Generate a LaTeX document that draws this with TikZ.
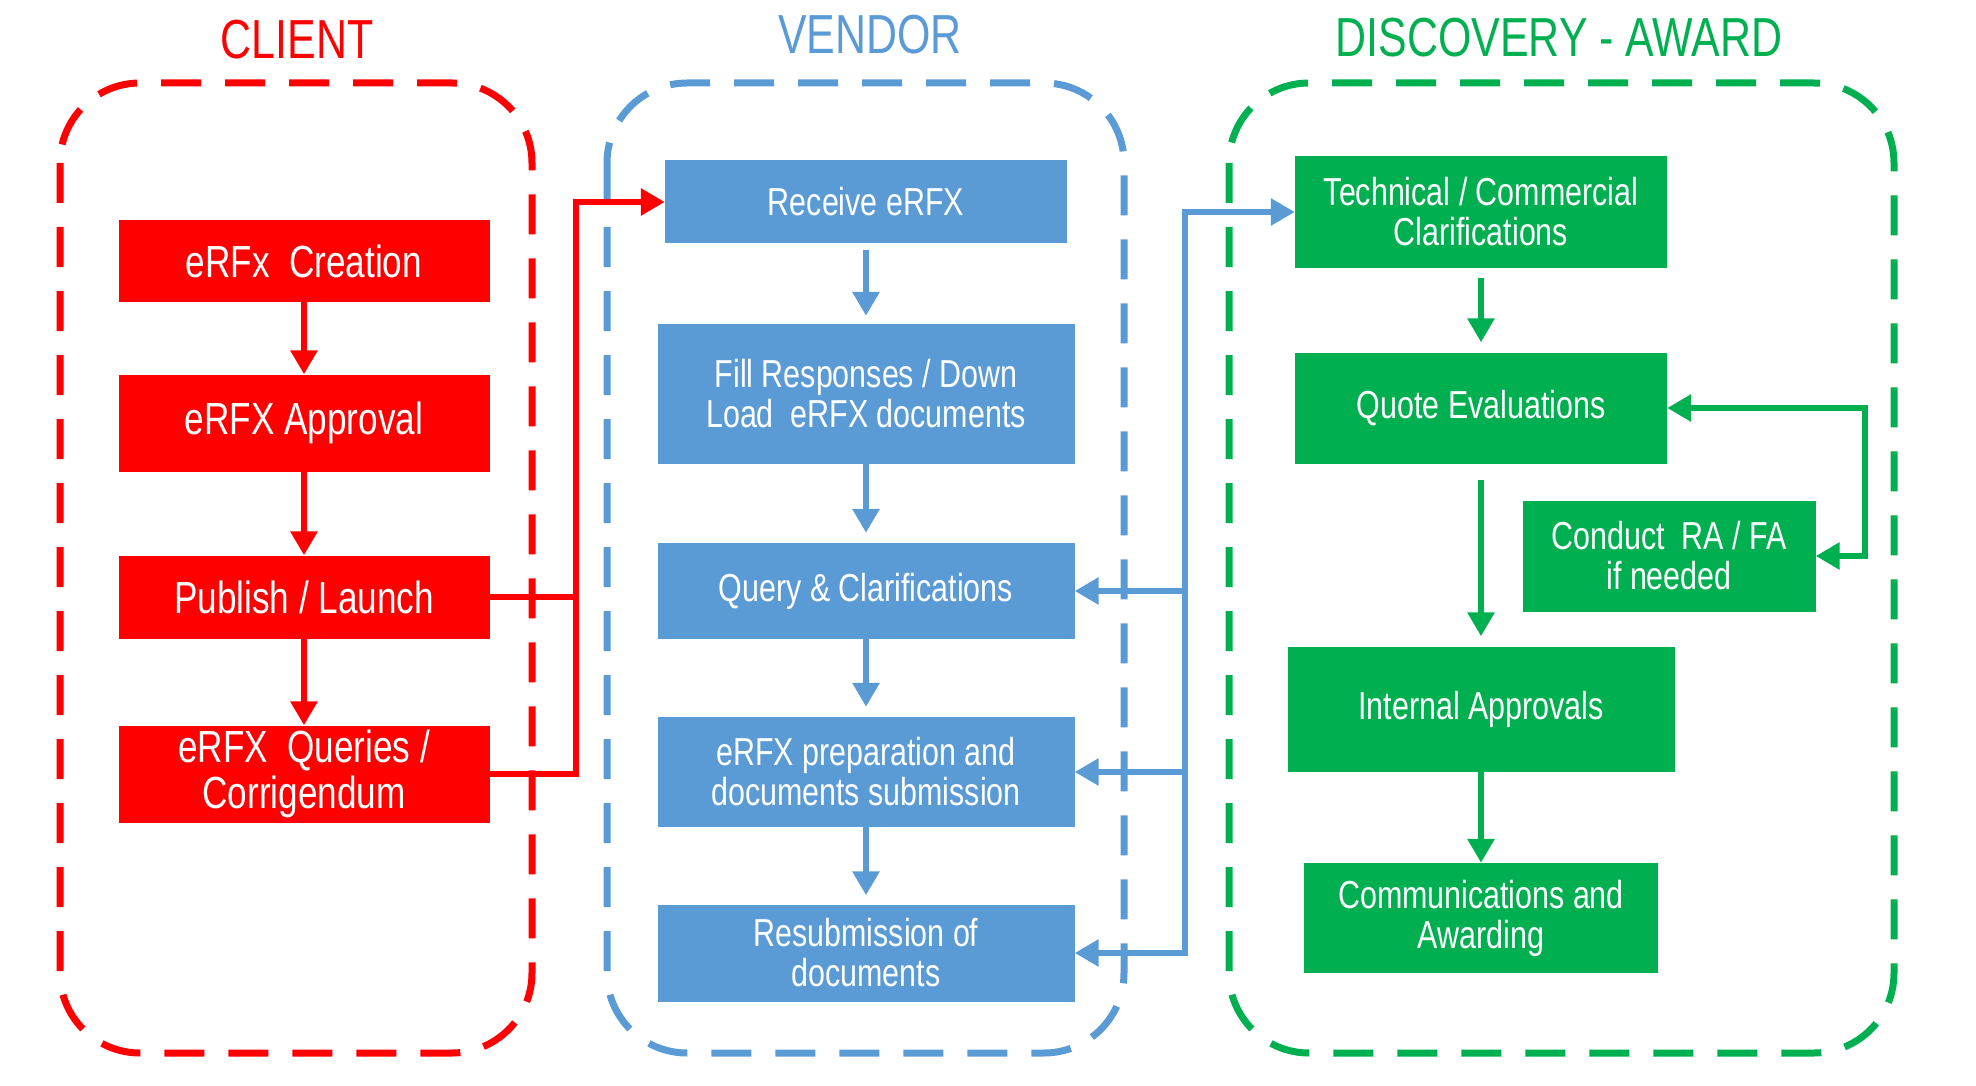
\documentclass[tikz,border=0pt]{standalone}
\usepackage{fontspec}
\setmainfont{Liberation Sans}[FakeStretch=0.78]
\usetikzlibrary{arrows.meta,positioning}
\definecolor{clientred}{HTML}{FF0000}
\definecolor{vendorblue}{HTML}{5B9BD5}
\definecolor{awardgreen}{HTML}{00B050}

\begin{document}
\begin{tikzpicture}[x=1pt,y=-1pt,>={Triangle[length=24pt,width=26pt]}]
\tikzstyle{lane}=[line width=7pt, dash pattern=on 40pt off 24pt, rounded corners=80pt]
\tikzstyle{title}=[anchor=base, font=\fontsize{55}{60}\selectfont]
\tikzstyle{client}=[rectangle, fill=clientred, text=white, inner sep=0pt, minimum width=371pt, align=center, font=\fontsize{45}{46}\selectfont]
\tikzstyle{vendor}=[rectangle, fill=vendorblue, text=white, inner sep=0pt, minimum width=417pt, align=center, font=\fontsize{39}{40}\selectfont]
\tikzstyle{award}=[rectangle, fill=awardgreen, text=white, inner sep=0pt, minimum width=372pt, align=center, font=\fontsize{39}{40}\selectfont]
\tikzstyle{connect}=[->, line width=6pt]
\tikzstyle{twoway}=[<->, line width=6pt]
\useasboundingbox (0,0) rectangle (1976,1086);
  % lanes
  \draw[lane, clientred] (60,83) rectangle (532,1053);
  \draw[lane, vendorblue] (607,83) rectangle (1124,1053);
  \draw[lane, awardgreen] (1229,83) rectangle (1894,1053);
  \node[title, text=clientred] (tclient) at (297,59) {CLIENT};
  \node[title, text=vendorblue] (tvendor) at (870,54) {VENDOR};
  \node[title, text=awardgreen] (taward) at (1559,57) {DISCOVERY - AWARD};
  % client
  \node[client, minimum height=82pt] (create) at (304,261) {eRFx\ \ Creation};
  \node[client, minimum height=97pt] (approve) at (304,423) {eRFX Approval};
  \node[client, minimum height=83pt] (publish) at (304,597) {Publish / Launch};
  \node[client, minimum height=97pt] (queries) at (304,774) {eRFX\ \ Queries /\\Corrigendum};
  % vendor
  \node[vendor, minimum width=402pt, minimum height=83pt] (receive) at (866,202) {Receive eRFX};
  \node[vendor, minimum height=140pt] (fill) at (866,394) {Fill Responses / Down\\Load\ \ eRFX documents};
  \node[vendor, minimum height=96pt] (query) at (866,591) {Query \& Clarifications};
  \node[vendor, minimum height=110pt] (prep) at (866,772) {eRFX preparation and\\documents submission};
  \node[vendor, minimum height=97pt] (resub) at (866,953) {Resubmission of\\documents};
  % discovery - award
  \node[award, minimum height=111pt] (tech) at (1481,212) {Technical / Commercial\\Clarifications};
  \node[award, minimum height=111pt] (quote) at (1481,408) {Quote Evaluations};
  \node[award, minimum width=293pt, minimum height=111pt] (conduct) at (1669,556) {Conduct\ \ RA / FA\\if needed};
  \node[award, minimum width=387pt, minimum height=125pt] (internal) at (1481,709) {Internal Approvals};
  \node[award, minimum width=354pt, minimum height=110pt] (comm) at (1481,918) {Communications and\\Awarding};
  \coordinate (rjoin) at (576,202);
  \coordinate (bjoin) at (1185,212);
  \coordinate (gloop) at (1865,408);
  \path[clientred] (create) edge [connect] (approve)
           (approve) edge [connect] (publish)
           (publish) edge [connect] (queries);
  \draw[connect, clientred] (queries.east) -| (rjoin) -- (receive.west);
  \draw[line width=6pt, clientred] (publish.east) -- (publish.east -| rjoin);
  \path[vendorblue] (receive) edge [connect, shorten <=6pt, shorten >=8pt] (fill)
           (fill) edge [connect, shorten >=10pt] (query)
           (query) edge [connect, shorten >=10pt] (prep)
           (prep) edge [connect, shorten >=9pt] (resub);
  \draw[twoway, vendorblue] (resub.east) -- (resub.east -| bjoin) -- (bjoin) -- (tech.west);
  \draw[connect, vendorblue] (query.east -| bjoin) -- (query.east);
  \draw[connect, vendorblue] (prep.east -| bjoin) -- (prep.east);
  \path[awardgreen] (tech) edge [connect, shorten <=10pt, shorten >=10pt] (quote)
           (quote) edge [connect, shorten <=16pt, shorten >=10pt] (internal)
           (internal) edge [connect] (comm);
  \draw[twoway, awardgreen] (quote.east) -- (gloop) |- (conduct.east);
\end{tikzpicture}
\end{document}
